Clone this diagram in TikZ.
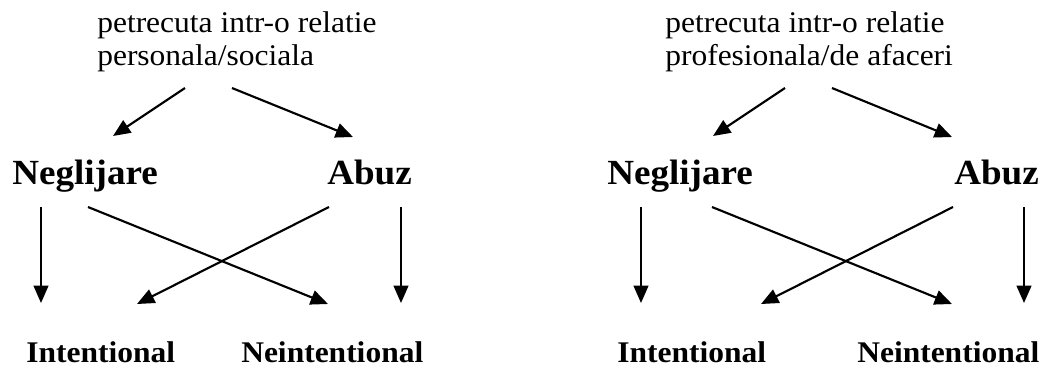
\documentclass[tikz,border=0pt]{standalone}
\usepackage{fontspec}
\setmainfont[FakeStretch=1.05]{Liberation Serif}
\usetikzlibrary{arrows.meta}
\begin{document}
\begin{tikzpicture}[
  x=0.75pt, y=-0.75pt,
  lbl/.style={inner sep=0pt, anchor=base west},
  ctx/.style={lbl, font=\fontsize{22.5pt}{25pt}\selectfont},
  kind/.style={lbl, font=\fontsize{26.5pt}{29pt}\selectfont\bfseries},
  intent/.style={lbl, font=\fontsize{22.5pt}{25pt}\selectfont\bfseries},
  conn/.style={line width=1.6pt, -{Triangle[length=13pt,width=11pt]}}
]
\useasboundingbox (0,0) rectangle (1043,369);

% ---- personal / social relationship ----
\node[ctx] (pA1) at (97,32) {petrecuta intr-o relatie};
\node[ctx] (pA2) at (97,65) {personala/sociala};
\node[kind] (negA) at (12,184) {Neglijare};
\node[kind] (abuA) at (327,184) {Abuz};
\node[intent] (intA) at (26,362) {Intentional};
\node[intent] (neiA) at (241,362) {Neintentional};

\coordinate (pA-l) at (185,88);   \coordinate (negA-t) at (113,136);
\coordinate (pA-r) at (232,88);   \coordinate (abuA-t) at (353,137);
\coordinate (negA-d) at (41,207);  \coordinate (intA-l) at (41,303);
\coordinate (negA-x) at (88,207);  \coordinate (neiA-x) at (328,304);
\coordinate (abuA-x) at (329,207); \coordinate (intA-x) at (137,304);
\coordinate (abuA-d) at (401,207); \coordinate (neiA-r) at (401,303);

\draw[conn] (pA-l) -- (negA-t);
\draw[conn] (pA-r) -- (abuA-t);
\draw[conn] (negA-d) -- (intA-l);
\draw[conn] (negA-x) -- (neiA-x);
\draw[conn] (abuA-x) -- (intA-x);
\draw[conn] (abuA-d) -- (neiA-r);

% ---- professional / business relationship ----
\node[ctx] (pB1) at (665,32) {petrecuta intr-o relatie};
\node[ctx] (pB2) at (665,65) {profesionala/de afaceri};
\node[kind] (negB) at (607,184) {Neglijare};
\node[kind] (abuB) at (954,184) {Abuz};
\node[intent] (intB) at (617,362) {Intentional};
\node[intent] (neiB) at (857,362) {Neintentional};

\coordinate (pB-l) at (785,88);    \coordinate (negB-t) at (713,136);
\coordinate (pB-r) at (832,88);    \coordinate (abuB-t) at (952,137);
\coordinate (negB-d) at (641,207);  \coordinate (intB-l) at (641,303);
\coordinate (negB-x) at (712,207);  \coordinate (neiB-x) at (952,304);
\coordinate (abuB-x) at (953,207);  \coordinate (intB-x) at (761,304);
\coordinate (abuB-d) at (1024,207); \coordinate (neiB-r) at (1024,303);

\draw[conn] (pB-l) -- (negB-t);
\draw[conn] (pB-r) -- (abuB-t);
\draw[conn] (negB-d) -- (intB-l);
\draw[conn] (negB-x) -- (neiB-x);
\draw[conn] (abuB-x) -- (intB-x);
\draw[conn] (abuB-d) -- (neiB-r);
\end{tikzpicture}
\end{document}
